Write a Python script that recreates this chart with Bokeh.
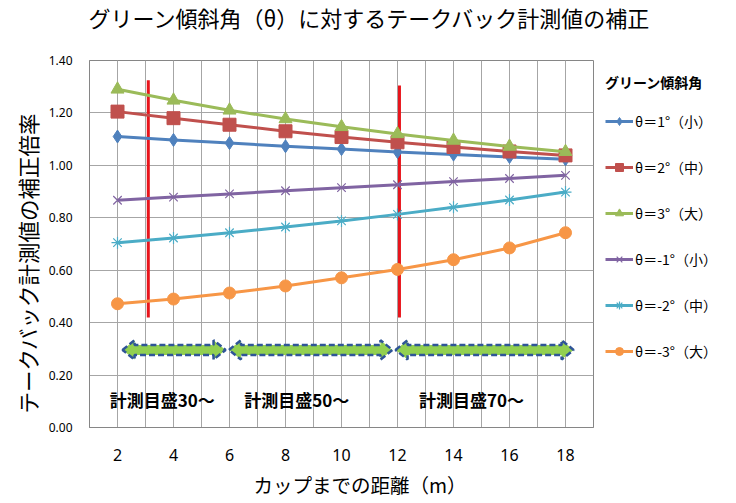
from bokeh.plotting import figure
from bokeh.models import (Title, Legend, LegendItem, FixedTicker, Range1d,
                          NumeralTickFormatter, ColumnDataSource)
from bokeh.core.properties import value
from bokeh.embed import file_html
from bokeh.resources import INLINE

# ---------------- data ----------------
distance = [2, 4, 6, 8, 10, 12, 14, 16, 18]
theta_p1 = [1.110, 1.097, 1.085, 1.073, 1.062, 1.051, 1.041, 1.032, 1.023]
theta_p2 = [1.205, 1.180, 1.155, 1.130, 1.108, 1.088, 1.070, 1.053, 1.038]
theta_p3 = [1.290, 1.248, 1.210, 1.177, 1.147, 1.120, 1.095, 1.072, 1.052]
theta_m1 = [0.867, 0.879, 0.891, 0.903, 0.915, 0.926, 0.938, 0.950, 0.962]
theta_m2 = [0.705, 0.723, 0.743, 0.765, 0.788, 0.813, 0.840, 0.868, 0.898]
theta_m3 = [0.472, 0.490, 0.513, 0.540, 0.571, 0.603, 0.640, 0.685, 0.743]
series_labels = ["θ＝1°（小）", "θ＝2°（中）", "θ＝3°（大）",
                 "θ＝-1°（小）", "θ＝-2°（中）", "θ＝-3°（大）"]

x_ticks = [2, 4, 6, 8, 10, 12, 14, 16, 18]
x_minor = list(range(1, 20))
y_ticks = [0.0, 0.2, 0.4, 0.6, 0.8, 1.0, 1.2, 1.4]

# red marker lines
red_x = [3.1, 12.07]
red_y0 = [0.42, 0.42]
red_y1 = [1.325, 1.305]

# range arrows
arrow_x0 = [2.18, 5.98, 11.93]
arrow_x1 = [5.86, 11.82, 18.29]
arrow_y = [0.296, 0.296, 0.296]

# range texts
range_text = ["計測目盛30～", "計測目盛50～", "計測目盛70～"]
range_text_x = [3.6, 8.4, 14.64]
range_text_y = [0.107, 0.107, 0.107]

JP = "Noto Sans CJK JP"
NUM = "Noto Sans"

p = figure(frame_width=504, frame_height=367, output_backend="svg",
           toolbar_location=None,
           x_range=Range1d(1, 19), y_range=Range1d(0, 1.4),
           min_border_left=89, min_border_right=135, min_border_top=60,
           min_border_bottom=70, background_fill_color="white",
           border_fill_color="white")
p.outline_line_color = "#868686"
p.outline_line_width = 1

# axes
p.xaxis.ticker = FixedTicker(ticks=x_ticks, minor_ticks=x_minor)
p.yaxis.ticker = FixedTicker(ticks=y_ticks)
p.yaxis.formatter = NumeralTickFormatter(format="0.00")
for ax in (p.xaxis, p.yaxis):
    ax.axis_line_color = "#868686"
    ax.major_tick_line_color = None
    ax.minor_tick_line_color = None
    ax.major_tick_out = 0
    ax.major_tick_in = 0
    ax.minor_tick_out = 0
    ax.minor_tick_in = 0
    ax.major_label_text_font = NUM
    ax.major_label_text_color = "black"
p.yaxis.major_label_text_font_size = "12px"
p.yaxis.major_label_standoff = 17
p.xaxis.major_label_text_font_size = "16px"
p.xaxis.major_label_standoff = 21

# grids
p.xgrid.grid_line_color = "#A6A6A6"
p.xgrid.minor_grid_line_color = "#A6A6A6"
p.ygrid.grid_line_color = "#A6A6A6"

# arrows (double-headed block arrows)
head_len = 0.43
half_shaft = 0.019
half_head = 0.037
axs, ays = [], []
for x0, x1, yc in zip(arrow_x0, arrow_x1, arrow_y):
    axs.append([x0, x0 + head_len, x0 + head_len, x1 - head_len, x1 - head_len,
                x1, x1 - head_len, x1 - head_len, x0 + head_len, x0 + head_len])
    ays.append([yc, yc + half_head, yc + half_shaft, yc + half_shaft, yc + half_head,
                yc, yc - half_head, yc - half_shaft, yc - half_shaft, yc - half_head])
p.patches(axs, ays, fill_color="#92D050", line_color="#2F5597",
          line_width=2.5, line_dash="6 3")

# red lines
p.segment(x0=red_x, y0=red_y0, x1=red_x, y1=red_y1, line_color="#E8141B",
          line_width=3)

# series
series = [theta_p1, theta_p2, theta_p3, theta_m1, theta_m2, theta_m3]
colors = ["#4F81BD", "#C0504D", "#9BBB59", "#8064A2", "#4BACC6", "#F79646"]
markers = ["diamond", "square", "triangle", "x", "asterisk", "circle"]
sizes = [13, 13, 13, 12, 12, 12]
items = []
for vals, col, mk, sz, lab in zip(series, colors, markers, sizes, series_labels):
    src = ColumnDataSource(dict(x=distance, y=vals))
    lr = p.line("x", "y", source=src, line_color=col, line_width=3)
    if mk in ("x", "asterisk"):
        sr = p.scatter("x", "y", source=src, marker=mk, size=sz,
                       line_color=col, line_width=1.2, fill_color=None)
    else:
        sr = p.scatter("x", "y", source=src, marker=mk, size=sz,
                       line_color=col, fill_color=col)
    items.append(LegendItem(label=lab, renderers=[lr, sr]))

# range texts
p.text(x=range_text_x, y=range_text_y, text=range_text,
       text_font=value(JP), text_font_size="17px", text_font_style="bold",
       text_align="center", text_baseline="middle", text_color="black")

legend = Legend(items=items, title="グリーン傾斜角", location="top_left",
                margin=12, padding=10, spacing=26, glyph_width=28,
                glyph_height=20, label_height=20, label_standoff=2,
                border_line_color=None, background_fill_alpha=0,
                label_text_font=JP, label_text_font_size="14px",
                label_text_color="black",
                title_text_font=JP, title_text_font_size="14px",
                title_text_color="black",
                title_text_font_style="bold", title_standoff=19)
p.add_layout(legend, "right")

# chart title (an empty second line keeps it near the top of the border)
p.title = Title(text="グリーン傾斜角（θ）に対するテークバック計測値の補正\n ",
                text_font=JP, text_font_size="22px", text_font_style="normal",
                text_color="black", align="left", offset=-1, standoff=0,
                vertical_align="top", text_line_height=0.8)

# axis titles
p.add_layout(Title(text="テークバック計測値の補正倍率", text_font=JP,
                   text_font_size="21.5px", text_font_style="normal",
                   text_color="black", align="left", offset=14, standoff=5),
             "left")
p.add_layout(Title(text="カップまでの距離（m）", text_font=JP,
                   text_font_size="19.5px", text_font_style="normal",
                   text_color="black", align="left", offset=164, standoff=8),
             "below")

open("out.html", "w").write(file_html(p, INLINE))
